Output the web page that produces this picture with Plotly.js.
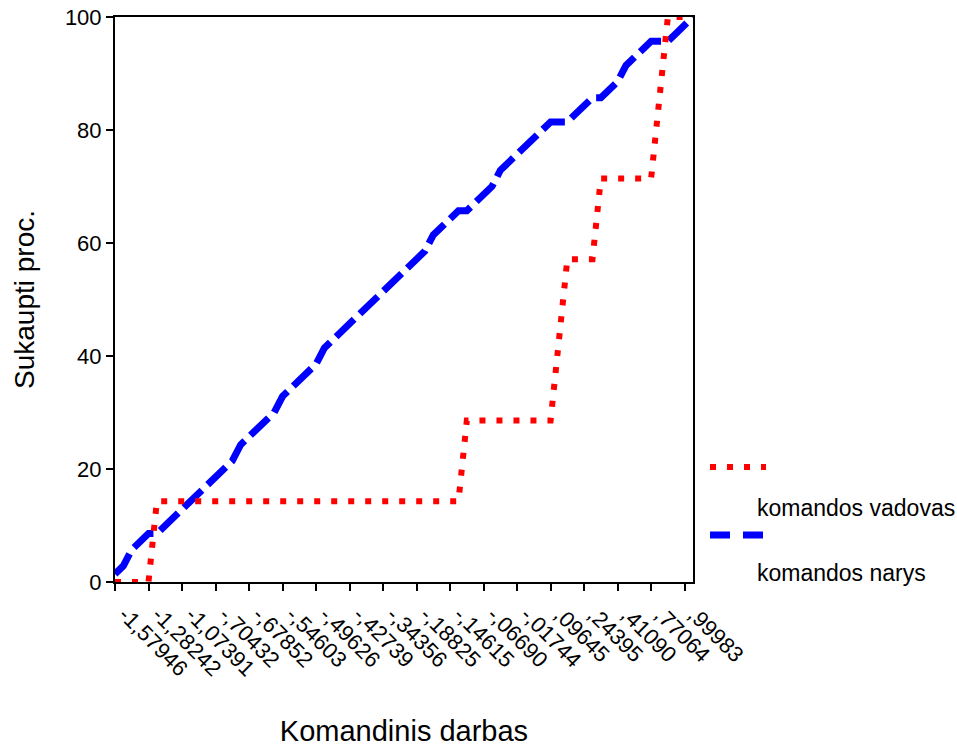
<!DOCTYPE html>
<html><head><meta charset="utf-8">
<script src="https://cdn.plot.ly/plotly-3.0.1.min.js"></script>
<style>html,body{margin:0;padding:0;background:#fff}#chart{width:957px;height:747px}</style>
</head><body><div id="chart"></div>
<script>
// Tick labels shown on the categorical x axis (every 4th category of "Komandinis darbas")
const tickLabels = ["-1,57946","-1,28242","-1,07391","-,70432","-,67852","-,54603","-,49626","-,42739","-,34356","-,18825","-,14615","-,06690","-,01744",",09645",",24395",",41090",",77064",",99983"];
const labelStep = 4;

// Cumulative percent, team leaders (komandos vadovas), one value per category
const vadovasPct = [0,0,0,0,0,
 14.29,14.29,14.29,14.29,14.29,14.29,14.29,14.29,14.29,14.29,14.29,14.29,14.29,14.29,14.29,14.29,14.29,14.29,14.29,14.29,14.29,14.29,14.29,14.29,14.29,14.29,14.29,14.29,14.29,14.29,14.29,14.29,14.29,14.29,14.29,14.29,14.29,
 28.57,28.57,28.57,28.57,28.57,28.57,28.57,28.57,28.57,28.57,28.57,
 42.86,
 57.14,57.14,57.14,57.14,
 71.43,71.43,71.43,71.43,71.43,71.43,71.43,
 85.71,
 100,100,100,100];

// Cumulative percent, team members (komandos narys), one value per category
const narysPct = [1.43,2.86,5.71,7.14,8.57,8.57,10.00,11.43,12.86,14.29,
 15.71,17.14,18.57,20.00,21.43,24.29,25.71,27.14,28.57,30.00,
 32.86,34.29,35.71,37.14,38.57,41.43,42.86,44.29,45.71,47.14,
 48.57,50.00,51.43,52.86,54.29,55.71,57.14,58.57,61.43,62.86,
 64.29,65.71,65.71,67.14,68.57,70.00,72.86,74.29,75.71,77.14,
 78.57,80.00,81.43,81.43,81.43,82.86,84.29,85.71,85.71,87.14,
 88.57,91.43,92.86,94.29,95.71,95.71,95.71,97.14,98.57,100.00];

const seriesNames = ["komandos vadovas","komandos narys"];
const seriesColors = ["#ff0000","#0000ff"];

const catPos = narysPct.map((_, i) => i);
const tickPos = tickLabels.map((_, k) => k * labelStep);
const FONT = "Liberation Sans, Arial, sans-serif";

const redDash = "6px,11px";
const blueDash = "25px,8px";
const blueLegendDash = "20px,13px";

const traces = [
  {x: catPos, y: narysPct, type: "scatter", mode: "lines", name: seriesNames[1],
   line: {color: seriesColors[1], width: 7, dash: blueDash}, showlegend: false, hoverinfo: "skip"},
  {x: catPos, y: vadovasPct, type: "scatter", mode: "lines", name: seriesNames[0],
   line: {color: seriesColors[0], width: 6, dash: redDash}, showlegend: false, hoverinfo: "skip"}
];

// custom legend (sample line above, label below, as in the original)
const L = {x0: 1.0294, x1: 1.1263, tx: 1.1073};
const legendRows = [
  {lineY: 0.2035, textY: 0.131, color: seriesColors[0], dash: redDash, width: 6, name: seriesNames[0]},
  {lineY: 0.0832, textY: 0.0159, color: seriesColors[1], dash: blueLegendDash, width: 7, name: seriesNames[1]}
];
const shapes = legendRows.map(r => ({type: "line", xref: "paper", yref: "paper", x0: L.x0, x1: L.x1, y0: r.lineY, y1: r.lineY,
  line: {color: r.color, width: r.width, dash: r.dash}}));
const annotations = legendRows.map(r => ({xref: "paper", yref: "paper", x: L.tx, y: r.textY, xanchor: "left", yanchor: "middle",
  text: r.name, showarrow: false, font: {family: FONT, size: 23, color: "#000"}}));

const layout = {
  width: 957, height: 747,
  margin: {l: 115, r: 264, t: 17, b: 165, pad: 0},
  paper_bgcolor: "#fff", plot_bgcolor: "#fff",
  font: {family: FONT, color: "#000", size: 22},
  showlegend: false,
  xaxis: {range: [0, catPos.length - 1], tickmode: "array", tickvals: tickPos, ticktext: tickLabels, tickangle: 45,
    ticks: "outside", ticklen: 7, tickwidth: 2, tickcolor: "#000", showline: true, linecolor: "#000", linewidth: 2,
    mirror: true, showgrid: false, zeroline: false, tickfont: {family: FONT, size: 22, color: "#000"},
    ticklabelshift: 10, ticklabelstandoff: 2,
    title: {text: "Komandinis darbas", font: {family: FONT, size: 29, color: "#000"}, standoff: 48}},
  yaxis: {range: [0, 100], tickmode: "array", tickvals: [0, 20, 40, 60, 80, 100],
    ticks: "outside", ticklen: 7, tickwidth: 2, tickcolor: "#000", showline: true, linecolor: "#000", linewidth: 2,
    mirror: true, showgrid: false, zeroline: false, tickfont: {family: FONT, size: 22, color: "#000"},
    title: {text: "Sukaupti proc.", font: {family: FONT, size: 28, color: "#000"}, standoff: 22}},
  shapes: shapes,
  annotations: annotations
};

Plotly.newPlot("chart", traces, layout, {displayModeBar: false, staticPlot: true});
</script>
</body></html>
